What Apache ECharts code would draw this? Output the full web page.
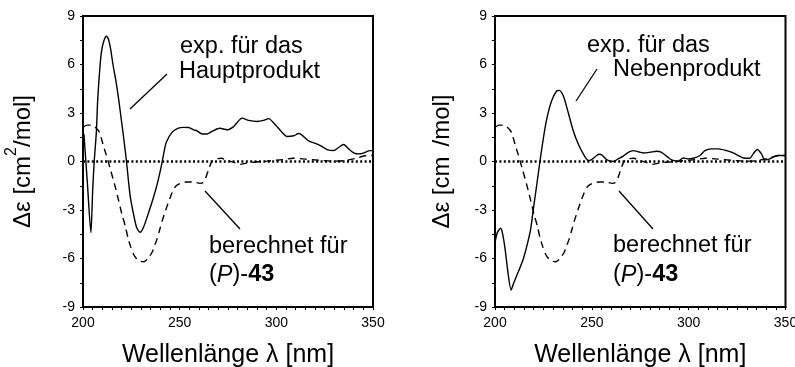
<!DOCTYPE html>
<html>
<head>
<meta charset="utf-8">
<script src="https://cdn.jsdelivr.net/npm/echarts@6/dist/echarts.min.js"></script>
<style>html,body{margin:0;padding:0;background:#fff}#c{width:795px;height:367px}</style>
</head>
<body>
<div id="c"></div>
<script>
// ---- data ----
const xTicks = [200, 250, 300, 350];
const yTicks = [-9, -6, -3, 0, 3, 6, 9];
// experimental CD, main product [wavelength nm, delta epsilon]
const hauptprodukt = [
  [200.5,1.7],[202.3,-1.4],[204.1,-4.4],[205.0,-1.8],[205.8,0],[206.9,1.8],[207.6,3.8],[208.8,5.9],
  [209.7,6.9],[210.9,7.5],[212.1,7.75],[213.2,7.55],[214.3,6.95],[215.5,6.0],[217.0,5.0],[218.5,3.8],
  [219.8,2.6],[221.0,1.5],[222.5,0],[223.6,-1.3],[224.6,-2.3],[226.3,-3.35],[227.8,-4.1],[229.6,-4.38],[231.2,-4.1],
  [233.4,-3.35],[236.2,-2.32],[238.6,-1.29],[240.9,-0.05],[242.2,0.77],[243.1,1.19],[246.0,1.8],[249.0,2.05],
  [252.0,2.11],[254.6,2.1],[257.2,1.96],[259.0,1.9],[261.6,1.7],[264.1,1.7],[266.7,1.86],[270.7,2.06],
  [274.5,1.96],[277.9,2.16],[282.3,2.68],[285.7,2.54],[290.0,2.47],[293.4,2.54],[296.0,2.65],[299.5,2.27],
  [303.0,1.8],[305.5,1.55],[309.0,1.59],[311.5,1.73],[313.3,1.63],[316.7,1.28],[320.2,1.12],[322.8,0.98],
  [326.2,0.74],[329.7,0.68],[332.0,0.85],[334.8,1.05],[337.4,0.78],[340.0,0.54],[342.6,0.47],[344.5,0.5],
  [348.3,0.67],[350.0,0.67]
];
// experimental CD, side product
const nebenprodukt = [
  [200.0,-5.0],[201.2,-4.4],[202.9,-4.13],[203.8,-4.4],[205.2,-5.4],[206.9,-7.06],[208.3,-7.95],[209.4,-7.6],
  [211.2,-7.06],[212.8,-6.6],[214.6,-6.03],[216.3,-5.3],[218.4,-4.2],[219.8,-2.94],[221.5,-1.5],[223.2,0],
  [224.9,1.39],[226.7,2.62],[229.2,3.74],[231.8,4.36],[233.2,4.4],[235.3,4.05],[237.8,3.03],[240.4,1.9],
  [243.0,1.08],[245.6,0.47],[248.2,0.06],[249.9,0.12],[252.5,0.37],[253.8,0.45],[255.2,0.4],[257.6,0.12],
  [261.0,0.0],[263.6,0.16],[266.2,0.33],[268.8,0.57],[271.4,0.67],[274.0,0.6],[276.5,0.53],[280.0,0.57],
  [283.4,0.63],[286.0,0.57],[288.6,0.33],[291.2,0.1],[294.6,0.02],[297.2,0.22],[299.8,0.16],[302.4,0.2],
  [305.8,0.37],[308.4,0.67],[311.8,0.78],[315.3,0.78],[319.6,0.67],[323.0,0.53],[325.6,0.37],[328.2,0.22],
  [331.6,0.2],[333.3,0.47],[335.4,0.74],[337.6,0.47],[339.3,0.1],[341.9,0.16],[343.6,0.27],[346.2,0.37],
  [350.0,0.37]
];
// calculated CD for (P)-43
const berechnet = [
  [200.5,2.15],[202.0,2.25],[204.5,2.25],[206.5,2.1],[208.5,1.8],[210.5,1.0],[212.8,0.1],[214.1,-0.46],
  [216.3,-1.4],[218.4,-2.4],[220.2,-3.3],[221.9,-4.0],[223.2,-4.7],[224.6,-5.25],[226.2,-5.75],[228.0,-6.05],
  [230.0,-6.18],[231.5,-6.2],[233.2,-6.05],[234.5,-5.85],[235.8,-5.6],[237.0,-5.2],[238.3,-4.8],[239.6,-4.25],
  [240.9,-3.7],[243.5,-2.75],[246.0,-1.95],[247.5,-1.6],[248.8,-1.45],[251.0,-1.33],[253.7,-1.27],[257.1,-1.27],
  [260.5,-1.35],[262.2,-1.3],[263.5,-1.0],[264.8,-0.55],[266.2,-0.1],[267.5,0.1],[269.5,0.18],[271.7,0.2],
  [274.3,0.06],[277.8,-0.04],[281.2,-0.18],[284.6,-0.1],[288.0,-0.05],[295.0,0.02],[303.6,0.12],[308.7,0.2],
  [315.0,0.15],[322.0,0.08],[329.0,0.02],[335.0,0.05],[341.4,0.2],[346.6,0.37],[350.0,0.37]
];
const xTitle = 'Wellenlänge λ [nm]';
const labelExp = ['exp. für das', 'Hauptprodukt', 'Nebenprodukt'];
const labelCalc = 'berechnet für';

// ---- chart ----
const FF = '"Liberation Sans", Arial, sans-serif';
const chart = echarts.init(document.getElementById('c'), null, {renderer: 'canvas'});

function xAxis(i) {
  return {
    type: 'value', gridIndex: i, min: xTicks[0], max: xTicks[xTicks.length - 1], interval: xTicks[1] - xTicks[0],
    axisLine: {show: true, onZero: false, lineStyle: {color: '#000', width: 2}},
    axisTick: {show: true, length: 3, lineStyle: {color: '#000', width: 1}},
    minorTick: {show: true, splitNumber: 10, length: 3, lineStyle: {color: '#000', width: 1}},
    splitLine: {show: false},
    axisLabel: {color: '#000', fontSize: 14, fontFamily: FF, margin: 9},
    name: xTitle, nameLocation: 'middle', nameGap: 36,
    nameTextStyle: {color: '#000', fontSize: 25, fontFamily: FF}
  };
}
function yAxis(i, nameRich) {
  return {
    type: 'value', gridIndex: i, min: yTicks[0], max: yTicks[yTicks.length - 1], interval: yTicks[1] - yTicks[0],
    axisLine: {show: true, lineStyle: {color: '#000', width: 2}},
    axisTick: {show: true, length: 3, lineStyle: {color: '#000', width: 1}},
    minorTick: {show: true, splitNumber: 2, length: 3, lineStyle: {color: '#000', width: 1}},
    splitLine: {show: false},
    axisLabel: {color: '#000', fontSize: 14, fontFamily: FF, margin: 8},
    name: nameRich, nameLocation: 'middle', nameRotate: 90, nameGap: 41,
    nameTextStyle: {
      color: '#000', fontSize: 24, fontFamily: FF,
      rich: {
        a: {fontSize: 24, fontFamily: FF, color: '#000'},
        sup: {fontSize: 16, fontFamily: FF, color: '#000', padding: [0, 0, 22, 0]},
        gap: {fontSize: 16, fontFamily: FF, color: '#000', width: 10}
      }
    }
  };
}
const zeroMark = {
  silent: true, symbol: 'none', label: {show: false},
  lineStyle: {color: '#000', width: 2.5, type: [2, 2.4]},
  data: [{yAxis: 0}]
};
function lineSeries(i, data, dashed, withZero) {
  const s = {
    type: 'line', xAxisIndex: i, yAxisIndex: i, data: data, showSymbol: false, smooth: 0.25,
    lineStyle: {color: '#000', width: 1.4, type: dashed ? [7, 5] : 'solid'}, animation: false, z: dashed ? 2 : 3
  };
  if (withZero) s.markLine = zeroMark;
  return s;
}

function txt(x, y, text, extra) {
  return Object.assign({type: 'text', x: x, y: y, style: {text: text, fill: '#000', font: '23.5px ' + FF, textVerticalAlign: 'middle'}}, extra || {});
}
function richTxt(x, y) {
  return {type: 'text', x: x, y: y, style: {
    text: '{n|(}{i|P}{n|)-}{b|43}', textVerticalAlign: 'middle',
    rich: {
      n: {fontSize: 23.5, fontFamily: FF, fill: '#000'},
      i: {fontSize: 23.5, fontFamily: FF, fontStyle: 'italic', fill: '#000'},
      b: {fontSize: 23.5, fontFamily: FF, fontWeight: 'bold', fill: '#000'}
    }
  }};
}
function seg(x1, y1, x2, y2) {
  return {type: 'line', shape: {x1: x1, y1: y1, x2: x2, y2: y2}, style: {stroke: '#000', lineWidth: 1.3}};
}

chart.setOption({
  animation: false,
  backgroundColor: '#fff',
  grid: [
    {left: 83, top: 16, width: 290, height: 291, outerBoundsMode: 'none', containLabel: false, show: true, borderColor: '#000', borderWidth: 2, backgroundColor: 'transparent'},
    {left: 495, top: 16, width: 290.5, height: 291, outerBoundsMode: 'none', containLabel: false, show: true, borderColor: '#000', borderWidth: 2, backgroundColor: 'transparent'}
  ],
  xAxis: [xAxis(0), xAxis(1)],
  yAxis: [yAxis(0, '{a|Δε [cm}{sup|2}{a|/mol]}'), yAxis(1, '{a|Δε [cm}{gap| }{a|/mol]}')],
  series: [
    lineSeries(0, berechnet, true, false),
    lineSeries(0, hauptprodukt, false, true),
    lineSeries(1, berechnet, true, false),
    lineSeries(1, nebenprodukt, false, true)
  ],
  graphic: [
    txt(180, 47, labelExp[0]),
    txt(179, 72, labelExp[1]),
    seg(130, 109, 167, 74),
    txt(209, 247, labelCalc),
    richTxt(209, 275),
    seg(205, 191, 240, 229),
    txt(587, 46, labelExp[0]),
    txt(613, 70, labelExp[2]),
    seg(576, 101, 597, 69),
    txt(613, 246, labelCalc),
    richTxt(613, 275),
    seg(619, 191, 653, 229)
  ]
});
</script>
</body>
</html>
